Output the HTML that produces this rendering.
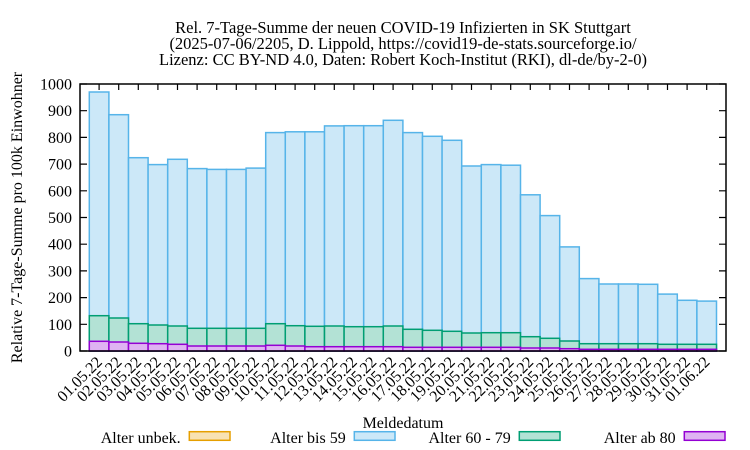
<!DOCTYPE html>
<html>
<head>
<meta charset="utf-8">
<style>
html,body{margin:0;padding:0;background:#fff;}
svg{display:block;}
text{font-family:"Liberation Serif","DejaVu Serif",serif;font-size:16px;fill:#000;}
text.t{font-size:16.5px;}
</style>
</head>
<body>
<svg width="750" height="450" viewBox="0 0 750 450" xmlns="http://www.w3.org/2000/svg">
<rect x="0" y="0" width="750" height="450" fill="#fff"/>
<!-- Title -->
<text class="t" x="403" y="33" text-anchor="middle">Rel. 7-Tage-Summe der neuen COVID-19 Infizierten in SK Stuttgart</text>
<text class="t" x="403" y="49" text-anchor="middle">(2025-07-06/2205, D. Lippold, https://covid19-de-stats.sourceforge.io/</text>
<text class="t" x="403" y="65" text-anchor="middle">Lizenz: CC BY-ND 4.0, Daten: Robert Koch-Institut (RKI), dl-de/by-2-0)</text>

<!-- Blue bars (total) -->
<g fill="#cce8f8" stroke="#56b4e9" stroke-width="1.5">
<rect x="89.3" y="92.0" width="19.6" height="259.0"/>
<rect x="108.9" y="114.7" width="19.6" height="236.3"/>
<rect x="128.5" y="157.7" width="19.6" height="193.3"/>
<rect x="148.1" y="164.6" width="19.6" height="186.4"/>
<rect x="167.7" y="159.3" width="19.6" height="191.7"/>
<rect x="187.3" y="168.6" width="19.6" height="182.4"/>
<rect x="206.9" y="169.4" width="19.6" height="181.6"/>
<rect x="226.5" y="169.4" width="19.6" height="181.6"/>
<rect x="246.1" y="168.1" width="19.6" height="182.9"/>
<rect x="265.7" y="132.6" width="19.6" height="218.4"/>
<rect x="285.3" y="131.8" width="19.6" height="219.2"/>
<rect x="304.9" y="131.8" width="19.6" height="219.2"/>
<rect x="324.5" y="125.9" width="19.6" height="225.1"/>
<rect x="344.1" y="125.7" width="19.6" height="225.3"/>
<rect x="363.7" y="125.7" width="19.6" height="225.3"/>
<rect x="383.3" y="120.3" width="19.6" height="230.7"/>
<rect x="402.9" y="132.6" width="19.6" height="218.4"/>
<rect x="422.5" y="136.3" width="19.6" height="214.7"/>
<rect x="442.1" y="140.3" width="19.6" height="210.7"/>
<rect x="461.7" y="166.0" width="19.6" height="185.0"/>
<rect x="481.3" y="164.6" width="19.6" height="186.4"/>
<rect x="500.9" y="165.2" width="19.6" height="185.8"/>
<rect x="520.5" y="194.8" width="19.6" height="156.2"/>
<rect x="540.1" y="215.6" width="19.6" height="135.4"/>
<rect x="559.7" y="246.9" width="19.6" height="104.1"/>
<rect x="579.3" y="278.6" width="19.6" height="72.4"/>
<rect x="598.9" y="284.0" width="19.6" height="67.0"/>
<rect x="618.5" y="284.0" width="19.6" height="67.0"/>
<rect x="638.1" y="284.3" width="19.6" height="66.7"/>
<rect x="657.7" y="294.1" width="19.6" height="56.9"/>
<rect x="677.3" y="300.3" width="19.6" height="50.7"/>
<rect x="696.9" y="301.1" width="19.6" height="49.9"/>
</g>

<!-- Green bars (60-79 stacked) -->
<g fill="#b3e2d5" stroke="#009e73" stroke-width="1.5">
<rect x="89.3" y="315.7" width="19.6" height="35.3"/>
<rect x="108.9" y="318.0" width="19.6" height="33.0"/>
<rect x="128.5" y="323.7" width="19.6" height="27.3"/>
<rect x="148.1" y="325.0" width="19.6" height="26.0"/>
<rect x="167.7" y="326.0" width="19.6" height="25.0"/>
<rect x="187.3" y="328.3" width="19.6" height="22.7"/>
<rect x="206.9" y="328.3" width="19.6" height="22.7"/>
<rect x="226.5" y="328.3" width="19.6" height="22.7"/>
<rect x="246.1" y="328.3" width="19.6" height="22.7"/>
<rect x="265.7" y="323.7" width="19.6" height="27.3"/>
<rect x="285.3" y="325.7" width="19.6" height="25.3"/>
<rect x="304.9" y="326.3" width="19.6" height="24.7"/>
<rect x="324.5" y="326.0" width="19.6" height="25.0"/>
<rect x="344.1" y="326.7" width="19.6" height="24.3"/>
<rect x="363.7" y="326.7" width="19.6" height="24.3"/>
<rect x="383.3" y="326.0" width="19.6" height="25.0"/>
<rect x="402.9" y="329.3" width="19.6" height="21.7"/>
<rect x="422.5" y="330.3" width="19.6" height="20.7"/>
<rect x="442.1" y="331.3" width="19.6" height="19.7"/>
<rect x="461.7" y="333.0" width="19.6" height="18.0"/>
<rect x="481.3" y="332.7" width="19.6" height="18.3"/>
<rect x="500.9" y="332.7" width="19.6" height="18.3"/>
<rect x="520.5" y="336.7" width="19.6" height="14.3"/>
<rect x="540.1" y="338.3" width="19.6" height="12.7"/>
<rect x="559.7" y="341.0" width="19.6" height="10.0"/>
<rect x="579.3" y="343.7" width="19.6" height="7.3"/>
<rect x="598.9" y="343.7" width="19.6" height="7.3"/>
<rect x="618.5" y="343.7" width="19.6" height="7.3"/>
<rect x="638.1" y="343.7" width="19.6" height="7.3"/>
<rect x="657.7" y="344.3" width="19.6" height="6.7"/>
<rect x="677.3" y="344.3" width="19.6" height="6.7"/>
<rect x="696.9" y="344.3" width="19.6" height="6.7"/>
</g>

<!-- Purple bars (80+) -->
<g fill="#dfb3f2" stroke="#9400d3" stroke-width="1.5">
<rect x="89.3" y="341.3" width="19.6" height="9.7"/>
<rect x="108.9" y="342.0" width="19.6" height="9.0"/>
<rect x="128.5" y="343.3" width="19.6" height="7.7"/>
<rect x="148.1" y="343.7" width="19.6" height="7.3"/>
<rect x="167.7" y="344.3" width="19.6" height="6.7"/>
<rect x="187.3" y="346.0" width="19.6" height="5.0"/>
<rect x="206.9" y="346.0" width="19.6" height="5.0"/>
<rect x="226.5" y="346.0" width="19.6" height="5.0"/>
<rect x="246.1" y="346.0" width="19.6" height="5.0"/>
<rect x="265.7" y="345.3" width="19.6" height="5.7"/>
<rect x="285.3" y="346.0" width="19.6" height="5.0"/>
<rect x="304.9" y="346.7" width="19.6" height="4.3"/>
<rect x="324.5" y="346.7" width="19.6" height="4.3"/>
<rect x="344.1" y="346.7" width="19.6" height="4.3"/>
<rect x="363.7" y="346.7" width="19.6" height="4.3"/>
<rect x="383.3" y="346.7" width="19.6" height="4.3"/>
<rect x="402.9" y="347.3" width="19.6" height="3.7"/>
<rect x="422.5" y="347.3" width="19.6" height="3.7"/>
<rect x="442.1" y="347.3" width="19.6" height="3.7"/>
<rect x="461.7" y="347.3" width="19.6" height="3.7"/>
<rect x="481.3" y="347.3" width="19.6" height="3.7"/>
<rect x="500.9" y="347.3" width="19.6" height="3.7"/>
<rect x="520.5" y="348.0" width="19.6" height="3.0"/>
<rect x="540.1" y="348.0" width="19.6" height="3.0"/>
<rect x="559.7" y="348.7" width="19.6" height="2.3"/>
<rect x="579.3" y="349.3" width="19.6" height="1.7"/>
<rect x="598.9" y="349.3" width="19.6" height="1.7"/>
<rect x="618.5" y="349.3" width="19.6" height="1.7"/>
<rect x="638.1" y="349.3" width="19.6" height="1.7"/>
<rect x="657.7" y="349.3" width="19.6" height="1.7"/>
<rect x="677.3" y="349.3" width="19.6" height="1.7"/>
<rect x="696.9" y="349.3" width="19.6" height="1.7"/>
</g>

<!-- Axes border -->
<rect x="80" y="84" width="646" height="267" fill="none" stroke="#000" stroke-width="1.5"/>

<!-- Ticks -->
<g stroke="#000" stroke-width="1.2">
<path d="M80 351H87M80 324.3H87M80 297.6H87M80 270.9H87M80 244.2H87M80 217.5H87M80 190.8H87M80 164.1H87M80 137.4H87M80 110.7H87M80 84H87"/>
<path d="M719 351H726M719 324.3H726M719 297.6H726M719 270.9H726M719 244.2H726M719 217.5H726M719 190.8H726M719 164.1H726M719 137.4H726M719 110.7H726M719 84H726"/>
<path d="M99.1 84V90M118.7 84V90M138.3 84V90M157.9 84V90M177.5 84V90M197.1 84V90M216.7 84V90M236.3 84V90M255.9 84V90M275.5 84V90M295.1 84V90M314.7 84V90M334.3 84V90M353.9 84V90M373.5 84V90M393.1 84V90M412.7 84V90M432.3 84V90M451.9 84V90M471.5 84V90M491.1 84V90M510.7 84V90M530.3 84V90M549.9 84V90M569.5 84V90M589.1 84V90M608.7 84V90M628.3 84V90M647.9 84V90M667.5 84V90M687.1 84V90M706.7 84V90"/>
</g>

<!-- Y tick labels -->
<g text-anchor="end">
<text x="72" y="356.5">0</text>
<text x="72" y="329.8">100</text>
<text x="72" y="303.1">200</text>
<text x="72" y="276.4">300</text>
<text x="72" y="249.7">400</text>
<text x="72" y="223.0">500</text>
<text x="72" y="196.3">600</text>
<text x="72" y="169.6">700</text>
<text x="72" y="142.9">800</text>
<text x="72" y="116.2">900</text>
<text x="72" y="89.5">1000</text>
</g>

<!-- X tick labels -->
<g text-anchor="end">
<text transform="translate(99.1,359) rotate(-45)" dy="0.35em">01.05.22</text>
<text transform="translate(118.7,359) rotate(-45)" dy="0.35em">02.05.22</text>
<text transform="translate(138.3,359) rotate(-45)" dy="0.35em">03.05.22</text>
<text transform="translate(157.9,359) rotate(-45)" dy="0.35em">04.05.22</text>
<text transform="translate(177.5,359) rotate(-45)" dy="0.35em">05.05.22</text>
<text transform="translate(197.1,359) rotate(-45)" dy="0.35em">06.05.22</text>
<text transform="translate(216.7,359) rotate(-45)" dy="0.35em">07.05.22</text>
<text transform="translate(236.3,359) rotate(-45)" dy="0.35em">08.05.22</text>
<text transform="translate(255.9,359) rotate(-45)" dy="0.35em">09.05.22</text>
<text transform="translate(275.5,359) rotate(-45)" dy="0.35em">10.05.22</text>
<text transform="translate(295.1,359) rotate(-45)" dy="0.35em">11.05.22</text>
<text transform="translate(314.7,359) rotate(-45)" dy="0.35em">12.05.22</text>
<text transform="translate(334.3,359) rotate(-45)" dy="0.35em">13.05.22</text>
<text transform="translate(353.9,359) rotate(-45)" dy="0.35em">14.05.22</text>
<text transform="translate(373.5,359) rotate(-45)" dy="0.35em">15.05.22</text>
<text transform="translate(393.1,359) rotate(-45)" dy="0.35em">16.05.22</text>
<text transform="translate(412.7,359) rotate(-45)" dy="0.35em">17.05.22</text>
<text transform="translate(432.3,359) rotate(-45)" dy="0.35em">18.05.22</text>
<text transform="translate(451.9,359) rotate(-45)" dy="0.35em">19.05.22</text>
<text transform="translate(471.5,359) rotate(-45)" dy="0.35em">20.05.22</text>
<text transform="translate(491.1,359) rotate(-45)" dy="0.35em">21.05.22</text>
<text transform="translate(510.7,359) rotate(-45)" dy="0.35em">22.05.22</text>
<text transform="translate(530.3,359) rotate(-45)" dy="0.35em">23.05.22</text>
<text transform="translate(549.9,359) rotate(-45)" dy="0.35em">24.05.22</text>
<text transform="translate(569.5,359) rotate(-45)" dy="0.35em">25.05.22</text>
<text transform="translate(589.1,359) rotate(-45)" dy="0.35em">26.05.22</text>
<text transform="translate(608.7,359) rotate(-45)" dy="0.35em">27.05.22</text>
<text transform="translate(628.3,359) rotate(-45)" dy="0.35em">28.05.22</text>
<text transform="translate(647.9,359) rotate(-45)" dy="0.35em">29.05.22</text>
<text transform="translate(667.5,359) rotate(-45)" dy="0.35em">30.05.22</text>
<text transform="translate(687.1,359) rotate(-45)" dy="0.35em">31.05.22</text>
<text transform="translate(706.7,359) rotate(-45)" dy="0.35em">01.06.22</text>
</g>

<!-- Axis labels -->
<text transform="translate(22,217.5) rotate(-90)" text-anchor="middle">Relative 7-Tage-Summe pro 100k Einwohner</text>
<text x="403" y="428" text-anchor="middle">Meldedatum</text>

<!-- Legend -->
<g text-anchor="end">
<text x="180.7" y="443">Alter unbek.</text>
<text x="345.7" y="443">Alter bis 59</text>
<text x="510.7" y="443">Alter 60 - 79</text>
<text x="675.7" y="443">Alter ab 80</text>
</g>
<rect x="189.3" y="431.7" width="40.7" height="8.6" fill="#f8e2b3" stroke="#e69f00" stroke-width="1.5"/>
<rect x="354.3" y="431.7" width="40.7" height="8.6" fill="#cce8f8" stroke="#56b4e9" stroke-width="1.5"/>
<rect x="519.3" y="431.7" width="40.7" height="8.6" fill="#b3e2d5" stroke="#009e73" stroke-width="1.5"/>
<rect x="684.3" y="431.7" width="40.7" height="8.6" fill="#dfb3f2" stroke="#9400d3" stroke-width="1.5"/>
</svg>
</body>
</html>
